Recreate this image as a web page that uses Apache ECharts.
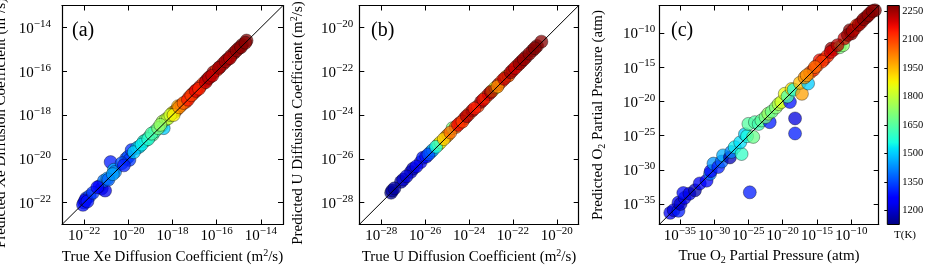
<!DOCTYPE html>
<html><head><meta charset="utf-8">
<script src="https://cdn.jsdelivr.net/npm/echarts@6.0.0/dist/echarts.min.js"></script>
<style>html,body{margin:0;padding:0;background:#fff}#c{width:927px;height:265px}</style>
</head><body><div id="c"></div>
<script>
// ---- Panel (a): Xe diffusion, log10 values (m^2/s) ----
const xeTrue = [-22.0,-21.9,-22.05,-21.75,-21.95,-21.3,-21.2,-21.05,-21.1,-20.95,-20.8,-20.65,-20.6,-20.1,-20.0,-19.95,-19.85,-19.6,-19.5,-19.3,-19.2,-19.05,-18.9,-18.8,-18.5,-18.45,-18.4,-18.3,-18.2,-18.0,-17.9,-17.8,-17.75,-17.6,-17.4,-17.25,-17.1,-17.0,-16.9,-16.75,-16.6,-16.45,-16.3,-16.15,-16.0,-15.85,-15.7,-15.5,-15.35,-15.2,-15.0,-14.85,-14.65,
  -21.85,-21.6,-21.4,-20.9,-20.7,-20.3,-20.2,-19.75,-19.4,-19.1,-18.95,-18.65,-18.55,-18.1,-17.95,-17.7,-17.5,-17.3,-17.15,-16.95,-16.8,-16.5,-16.35,-16.2,-15.9,-15.6,-15.4,-15.1,-14.9,-14.7];
const xePred = [-22.0,-21.8,-22.1,-21.7,-21.9,-21.25,-21.35,-21.45,-21.0,-20.9,-20.15,-20.5,-20.6,-20.0,-19.9,-20.05,-19.6,-19.5,-19.45,-19.2,-19.15,-19.0,-18.9,-18.75,-18.5,-18.3,-18.6,-18.2,-18.15,-17.9,-17.85,-17.75,-17.6,-17.55,-17.4,-17.2,-17.05,-16.95,-16.85,-16.7,-16.55,-16.4,-16.25,-16.05,-15.95,-15.8,-15.65,-15.45,-15.3,-15.15,-14.95,-14.8,-14.6,
  -21.95,-21.55,-21.3,-20.95,-20.7,-20.2,-20.3,-19.7,-19.35,-19.1,-18.85,-18.6,-18.45,-18.0,-18.0,-17.65,-17.45,-17.3,-17.1,-16.9,-16.8,-16.5,-16.3,-16.2,-15.85,-15.55,-15.4,-15.05,-14.9,-14.7];
const xeTemp = [1300,1320,1280,1350,1250,1260,1230,1240,1400,1440,1300,1470,1420,1340,1360,1330,1320,1480,1520,1560,1600,1620,1650,1600,1720,1760,1500,1780,1800,1850,1900,2050,1960,2080,2100,2120,2200,2080,2150,2220,2100,2240,2160,2250,2120,2260,2200,2260,2240,2270,2250,2270,2275,
  1290,1330,1270,1380,1450,1360,1300,1500,1540,1580,1640,1700,1740,1820,1880,2000,2060,2140,2100,2180,2130,2200,2230,2210,2240,2250,2230,2260,2265,2270];
const xeTicks = [-22,-20,-18,-16,-14];

// ---- Panel (b): U diffusion, log10 values (m^2/s) ----
const uTrue = [-27.55,-27.5,-27.1,-27.0,-26.65,-26.55,-26.2,-26.1,-25.95,-25.75,-25.65,-25.4,-25.3,-25.05,-24.95,-24.75,-24.6,-24.4,-24.2,-24.0,-23.85,-23.6,-23.45,-23.25,-23.1,-22.95,-22.8,-22.65,-22.5,-22.3,-22.2,-22.0,-21.8,-21.6,-21.4,-21.1,-20.9,-20.7,
  -27.4,-26.85,-26.4,-25.85,-25.5,-25.15,-24.85,-24.5,-24.3,-24.1,-23.75,-23.35,-23.0,-22.7,-22.4,-22.1,-21.9,-21.7,-21.5,-21.25,-21.0];
const uPred = [-27.55,-27.45,-27.05,-26.95,-26.6,-26.45,-26.15,-25.95,-25.9,-25.7,-25.6,-25.35,-25.25,-25.0,-24.9,-24.6,-24.55,-24.35,-24.15,-23.95,-23.8,-23.6,-23.4,-23.2,-23.05,-22.9,-22.75,-22.6,-22.45,-22.25,-22.2,-21.95,-21.75,-21.55,-21.35,-21.05,-20.85,-20.65,
  -27.35,-26.8,-26.35,-25.8,-25.45,-25.1,-24.8,-24.45,-24.3,-24.05,-23.7,-23.3,-22.95,-22.7,-22.35,-22.05,-21.85,-21.65,-21.45,-21.2,-20.95];
const uTemp = [1150,1170,1180,1200,1220,1190,1260,1300,1280,1420,1480,1830,1880,1960,2000,1700,2080,2120,2200,2060,2240,2100,2250,2020,2200,1900,1850,2240,2100,1980,2060,2140,2110,2220,2260,2250,2270,2275,
  1160,1210,1240,1350,1560,1920,2040,2160,2100,2230,2150,2180,2240,2000,2210,2250,2200,2260,2250,2270,2275];
const uTicks = [-28,-26,-24,-22,-20];

// ---- Panel (c): O2 partial pressure, log10 values (atm) ----
const o2True = [-36.4,-35.9,-35.2,-35.2,-34.9,-34.3,-34.5,-33.6,-32.8,-32.1,-31.1,-30.6,-30.5,-30.1,-29.4,-28.9,-28.7,-27.7,-27.5,-27.0,-26.0,-26.2,-25.5,-25.2,-25.0,-24.3,-24.05,-23.5,-23.1,-21.9,-22.5,-22.1,-21.6,-21.0,-20.6,-20.2,-18.95,-18.2,-18.2,-19.7,-19.3,-18.7,-18.4,-17.2,-17.5,-16.3,-16.8,-16.0,-15.5,-15.0,-14.6,-14.0,-13.5,-12.9,-12.5,-11.7,-11.2,-11.0,-10.2,-10.0,-9.5,-9.2,-8.5,-7.8,-7.2,-6.55,-24.8,
  -13.0,-12.0,-10.5,-9.8,-8.9,-8.2,-7.5,-6.9,-14.3,-15.3,-16.5];
const o2Pred = [-36.3,-35.9,-36.0,-34.8,-35.0,-34.1,-33.4,-33.5,-33.0,-32.0,-31.6,-30.6,-30.2,-29.1,-29.6,-28.8,-27.9,-28.2,-27.4,-26.7,-27.7,-26.0,-24.8,-25.1,-23.3,-25.2,-23.05,-23.3,-22.8,-23.05,-22.3,-21.8,-21.5,-20.9,-20.4,-20.1,-20.1,-22.5,-24.7,-18.9,-19.3,-18.2,-18.3,-18.9,-17.3,-17.4,-16.5,-15.8,-15.4,-14.8,-14.0,-13.9,-13.4,-12.3,-12.4,-12.1,-11.8,-10.8,-9.6,-10.1,-9.4,-8.9,-8.4,-7.7,-7.1,-6.7,-33.3,
  -12.8,-11.8,-10.3,-9.7,-8.8,-8.0,-7.4,-6.8,-14.2,-15.0,-16.2];
const o2Temp = [1250,1220,1300,1260,1200,1240,1280,1230,1180,1250,1270,1400,1260,1440,1300,1380,1470,1180,1420,1540,1600,1520,1500,1560,1650,1680,1640,1620,1660,1300,1700,1740,1680,1720,1780,1830,1290,1220,1300,1860,1640,1900,1560,1980,1950,1500,2000,2050,2120,2080,2150,2200,2120,2250,2180,1700,1720,2200,2270,2240,2150,2100,2200,2260,2180,2270,1300,
  2200,2230,2260,2240,2250,2270,2260,2275,2100,2050,2000];
const o2Ticks = [-35,-30,-25,-20,-15,-10];

// ---- Colour bar ----
const tempMin = 1125, tempMax = 2280;
const tempTicks = [1200,1350,1500,1650,1800,1950,2100,2250];

// jet colormap (matplotlib segment data)
function interp(seg, t){
  for (let i=1;i<seg.length;i++){ if (t<=seg[i][0]){ const a=seg[i-1], b=seg[i]; return a[1]+(b[1]-a[1])*(t-a[0])/(b[0]-a[0]); } }
  return seg[seg.length-1][1];
}
const R=[[0,0],[0.35,0],[0.66,1],[0.89,1],[1,0.5]], G=[[0,0],[0.125,0],[0.375,1],[0.64,1],[0.91,0],[1,0]], B=[[0,0.5],[0.11,1],[0.34,1],[0.65,0],[1,0]];
function jet(t){ const h=v=>Math.round(v*255).toString(16).padStart(2,'0'); return '#'+h(interp(R,t))+h(interp(G,t))+h(interp(B,t)); }
const jetColors = []; for (let i=0;i<=40;i++) jetColors.push(jet(i/40));

const FONT = '"Liberation Serif", "DejaVu Serif", serif';
const tickRich = { b:{fontSize:15, lineHeight:18, fontFamily:FONT, color:'#000', verticalAlign:'bottom'}, s:{fontSize:11, lineHeight:10, fontFamily:FONT, color:'#000', verticalAlign:'top'} };
const nameRich = { n:{fontSize:15, fontFamily:FONT, color:'#000', lineHeight:18}, sup:{fontSize:10, fontFamily:FONT, color:'#000', lineHeight:18, verticalAlign:'top'}, sub:{fontSize:10, fontFamily:FONT, color:'#000', lineHeight:18, verticalAlign:'bottom'} };
const fmt = v => '{b|10}{s|\u2212' + Math.abs(v) + '}';

const grids = [
  {left:62, top:5.5, width:221, height:219, outerBoundsMode:'none', containLabel:false},
  {left:359.3, top:5.5, width:219.4, height:219, outerBoundsMode:'none', containLabel:false},
  {left:659.3, top:5.5, width:219.4, height:219, outerBoundsMode:'none', containLabel:false},
  {left:887.3, top:5.5, width:12, height:219, outerBoundsMode:'none', containLabel:false}
];
const panels = [
  {min:-23, max:-13, ticks:xeTicks, xname:'{n|True Xe Diffusion Coefficient (m}{sup|2}{n|/s)}', yname:'{n|Predicted Xe Diffusion Coefficient (m}{sup|2}{n|/s)}', ymargin:11, ypad:[0,16,0,0]},
  {min:-29, max:-19, ticks:uTicks, xname:'{n|True U Diffusion Coefficient (m}{sup|2}{n|/s)}', yname:'{n|Predicted U Diffusion Coefficient (m}{sup|2}{n|/s)}', ymargin:6, ypad:[0,16,0,0]},
  {min:-38, max:-6, ticks:o2Ticks, xname:'{n|True O}{sub|2}{n| Partial Pressure (atm)}', yname:'{n|Predicted O}{sub|2}{n| Partial Pressure (atm)}', ymargin:4, ypad:[0,0,0,0]}
];
const axLine = {show:true, lineStyle:{color:'#000', width:1.2}};
const xAxes = [], yAxes = [];
panels.forEach((p,i)=>{
  xAxes.push({type:'value', gridIndex:i, position:'bottom', min:p.min, max:p.max, axisLine:axLine, splitLine:{show:false},
    axisTick:{inside:true, length:5, customValues:p.ticks, lineStyle:{color:'#000'}},
    axisLabel:{customValues:p.ticks, formatter:fmt, rich:tickRich, margin:1},
    name:p.xname, nameLocation:'middle', nameGap:19, nameTextStyle:{rich:nameRich}});
  xAxes.push({type:'value', gridIndex:i, position:'top', min:p.min, max:p.max, axisLine:axLine, splitLine:{show:false},
    axisTick:{inside:true, length:5, customValues:p.ticks, lineStyle:{color:'#000'}}, axisLabel:{show:false}});
  yAxes.push({type:'value', gridIndex:i, position:'left', min:p.min, max:p.max, axisLine:axLine, splitLine:{show:false},
    axisTick:{inside:true, length:5, customValues:p.ticks, lineStyle:{color:'#000'}},
    axisLabel:{customValues:p.ticks, formatter:fmt, rich:tickRich, margin:p.ymargin},
    name:p.yname, nameLocation:'middle', nameGap:52, nameRotate:90, nameTextStyle:{rich:nameRich, padding:p.ypad}});
  yAxes.push({type:'value', gridIndex:i, position:'right', min:p.min, max:p.max, axisLine:axLine, splitLine:{show:false},
    axisTick:{inside:true, length:5, customValues:p.ticks, lineStyle:{color:'#000'}}, axisLabel:{show:false}});
});
// colour bar axes
xAxes.push({type:'value', gridIndex:3, min:0, max:1, show:false});
yAxes.push({type:'value', gridIndex:3, position:'right', min:tempMin, max:tempMax, splitLine:{show:false},
  axisLine:{show:false}, axisTick:{inside:true, length:3, customValues:tempTicks, lineStyle:{color:'#000'}},
  axisLabel:{customValues:tempTicks, margin:3, fontSize:10.5, fontFamily:FONT, color:'#000', formatter:v=>String(v)}});

const scatterStyle = {opacity:0.75, borderColor:'rgba(0,0,0,0.6)', borderWidth:0.8};
const sets = [[xeTrue,xePred,xeTemp],[uTrue,uPred,uTemp],[o2True,o2Pred,o2Temp]];
const series = sets.map((s,i)=>({type:'scatter', xAxisIndex:2*i, yAxisIndex:2*i, symbolSize:13, itemStyle:scatterStyle,
  data:s[0].map((x,j)=>[x, s[1][j], s[2][j]]), z:2}));
panels.forEach((p,i)=>series.push({type:'line', xAxisIndex:2*i, yAxisIndex:2*i, symbol:'none', silent:true, z:5,
  lineStyle:{color:'#000', width:1}, data:[[p.min,p.min],[p.max,p.max]]}));
// gradient: offset 0 = top = hottest
const barStops = jetColors.map((c,i)=>({offset:1-i/40, color:c})).sort((u,v)=>u.offset-v.offset);
series.push({type:'custom', xAxisIndex:6, yAxisIndex:6, silent:true, data:[[0, tempMax, tempMin]],
  renderItem:(params, api)=>{
    const a = api.coord([0, api.value(1)]), b = api.coord([1, api.value(2)]);
    return {type:'rect', shape:{x:a[0], y:a[1], width:b[0]-a[0], height:b[1]-a[1]},
      style:{fill:new echarts.graphic.LinearGradient(0,0,0,1,barStops), stroke:'#000', lineWidth:1}};
  }});

const chart = echarts.init(document.getElementById('c'), null, {renderer:'canvas'});
chart.setOption({
  animation:false,
  grid:grids, xAxis:xAxes, yAxis:yAxes, series:series,
  visualMap:{type:'continuous', show:false, min:tempMin, max:tempMax, dimension:2, seriesIndex:[0,1,2], inRange:{color:jetColors}},
  graphic:[
    {type:'text', left:72, top:21, style:{text:'(a)', font:'20px '+FONT, fill:'#000'}},
    {type:'text', left:371, top:21, style:{text:'(b)', font:'20px '+FONT, fill:'#000'}},
    {type:'text', left:671, top:21, style:{text:'(c)', font:'20px '+FONT, fill:'#000'}},
    {type:'text', left:894, top:230, style:{text:'T(K)', font:'11px '+FONT, fill:'#000'}}
  ]
});
</script></body></html>
